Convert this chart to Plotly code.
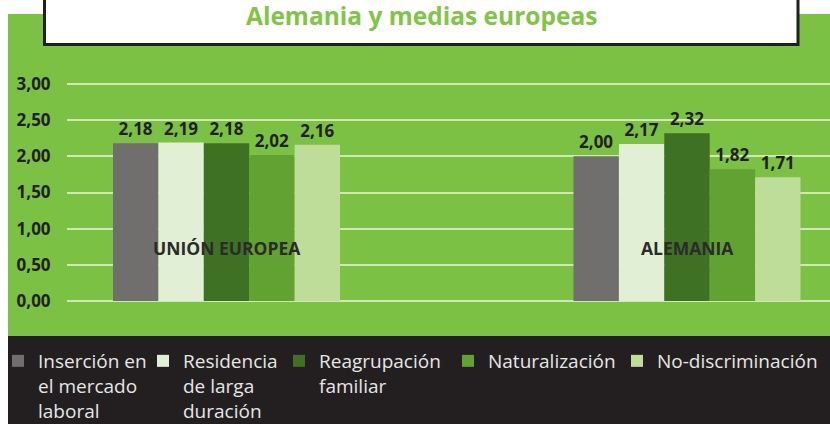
import plotly.graph_objects as go

# ---- data ----
categories = ["UNIÓN EUROPEA", "ALEMANIA"]
series_names = [
    "Inserción en<br>el mercado<br>laboral",
    "Residencia<br>de larga<br>duración",
    "Reagrupación<br>familiar",
    "Naturalización",
    "No-discriminación",
]
insercion = [2.18, 2.00]
residencia = [2.19, 2.17]
reagrupacion = [2.18, 2.32]
naturalizacion = [2.02, 1.82]
no_discriminacion = [2.16, 1.71]
series_values = [insercion, residencia, reagrupacion, naturalizacion, no_discriminacion]
colors = ["#716f6d", "#e1efd5", "#3e7123", "#62a233", "#bedd99"]
legend_widths = [100, 91, 124, 124, 161]
title_text = "Alemania y medias europeas"

# ---- geometry helpers (page pixel -> paper) ----
W, H = 830, 424
ML, MR, MT, MB = 67, 0, 70, 101
PW, PH = W - ML - MR, H - MT - MB


def px(x):
    return (x - ML) / PW


def py(y):
    return (H - MB - y) / PH


FONT = "Open Sans"
DARK = "#231f20"
GREEN = "#7bc143"

fig = go.Figure()
for name, vals, col, lw in zip(series_names, series_values, colors, legend_widths):
    fig.add_trace(go.Bar(
        x=categories, y=vals, name=name, legendwidth=lw,
        marker=dict(color=col, line=dict(width=0)),
        texttemplate="%{y:.2f}", textposition="outside",
        textfont=dict(family=FONT, size=17, color=DARK, weight="bold"),
        cliponaxis=False,
    ))

shapes = [
    # green panel
    dict(type="rect", xref="paper", yref="paper", x0=px(8), x1=px(840), y0=py(336), y1=py(14),
         fillcolor=GREEN, line=dict(width=0), layer="below"),
    # dark legend band
    dict(type="rect", xref="paper", yref="paper", x0=px(8), x1=px(840), y0=py(440), y1=py(336),
         fillcolor=DARK, line=dict(width=0), layer="below"),
    # title box
    dict(type="rect", xref="paper", yref="paper", x0=px(44.5), x1=px(798), y0=py(44.5), y1=py(-5),
         fillcolor="white", line=dict(width=3, color=DARK), layer="below"),
]

annotations = [
    dict(text=title_text, xref="paper", yref="paper", x=px(421.5), y=py(15.5),
         xanchor="center", yanchor="middle", showarrow=False,
         font=dict(family=FONT, size=24.5, color="#80c545", weight="bold")),
]
for cat in categories:
    annotations.append(dict(text=cat, xref="x", yref="paper", x=cat, y=py(248.5),
                            xanchor="center", yanchor="middle", showarrow=False,
                            font=dict(family=FONT, size=17.5, color="#2b2b2b", weight="bold")))

fig.update_layout(
    width=W, height=H,
    margin=dict(l=ML, r=MR, t=MT, b=MB, autoexpand=False),
    paper_bgcolor="white", plot_bgcolor="rgba(0,0,0,0)",
    separators=",.",
    barmode="group", bargap=0.507, bargroupgap=0,
    shapes=shapes, annotations=annotations,
    showlegend=True,
    legend=dict(orientation="h", x=px(-2), y=py(342), xanchor="left", yanchor="top",
                bgcolor="rgba(0,0,0,0)", valign="top", traceorder="normal",
                font=dict(family=FONT, size=19, color="#e6e6e6")),
    xaxis=dict(range=[-0.3464, 1.3105], showticklabels=False, showgrid=False,
               zeroline=False, showline=False, fixedrange=True),
    yaxis=dict(range=[-0.3042, 3.1936], tickvals=[0, 0.5, 1, 1.5, 2, 2.5, 3],
               tickformat=".2f", showgrid=True, gridcolor="#cfe8b4", gridwidth=1.5,
               zeroline=False, showline=False, ticks="outside", ticklen=12,
               tickcolor="rgba(0,0,0,0)", fixedrange=True,
               tickfont=dict(family=FONT, size=17, color=DARK, weight="bold")),
)

fig.write_html("out.html", config={"displayModeBar": False},
               post_script="document.body.style.margin='0';document.body.style.overflow='hidden';")
